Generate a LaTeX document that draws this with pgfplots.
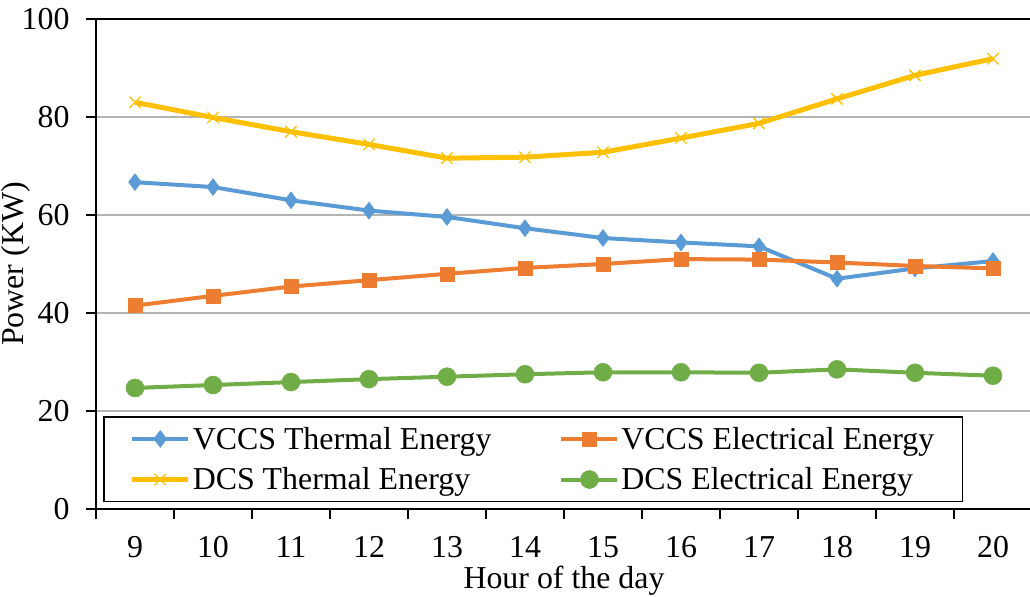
\documentclass[border=0pt]{standalone}
\usepackage{fontspec}
\setmainfont{Liberation Serif}
\usepackage{pgfplots}
\pgfplotsset{compat=1.18}

\definecolor{vthermal}{HTML}{5B9BD5}
\definecolor{velec}{HTML}{ED7D31}
\definecolor{dthermal}{HTML}{FFC000}
\definecolor{delec}{HTML}{70AD47}
\definecolor{gridgray}{HTML}{B4B4B4}

\begin{document}
\begin{tikzpicture}
\begin{axis}[
  scale only axis,
  width=936bp, height=490bp,
  xmin=8.5, xmax=20.5, ymin=0, ymax=100,
  axis line style={black, line width=1.6bp},
  font=\fontsize{32}{38}\selectfont,
  /pgf/number format/assume math mode=true,
  % category boundaries carry the tick marks
  xtick={8.5,9.5,...,20.5}, xticklabels={},
  extra x ticks={9,10,...,20},
  extra x tick labels={9,10,11,12,13,14,15,16,17,18,19,20},
  extra x tick style={grid=none, tick style={draw=none}},
  xticklabel style={yshift=-14bp},
  ytick={0,20,...,100},
  yticklabel style={xshift=-13bp},
  major tick length=10bp,
  tick align=outside,
  tick pos=left,
  tick style={black, line width=1.4bp},
  ymajorgrids, xmajorgrids=false,
  grid style={gridgray, line width=1.4bp},
  xlabel={Hour of the day},
  ylabel={Power (KW)},
  xlabel style={yshift=9bp},
  ylabel style={yshift=-15bp},
  legend columns=2,
  legend style={
    at={(axis cs:8.59,18.9)}, anchor=north west,
    draw=black, line width=1.5bp, fill=white,
    font=\fontsize{32}{38}\selectfont,
    inner xsep=26bp, inner ysep=8bp,
    row sep=13bp,
    /tikz/every even column/.append style={column sep=66bp},
  },
  legend cell align=left,
  legend image code/.code={
    \draw[#1, mark repeat=2, mark phase=2]
      plot coordinates {(0bp,0bp) (28bp,0bp) (56bp,0bp)};
  },
]
\addplot[vthermal, line width=4bp, mark=diamond*, mark size=8.5bp,
         mark options={solid, fill=vthermal, draw=vthermal, line width=0.5bp}]
  coordinates {
  (9,66.7) (10,65.7) (11,63.0) (12,60.9) (13,59.6) (14,57.3)
  (15,55.3) (16,54.4) (17,53.6) (18,47.0) (19,49.1) (20,50.6)};
\addlegendentry{VCCS Thermal Energy}

\addplot[velec, line width=4bp, mark=square*, mark size=7bp,
         mark options={solid, fill=velec, draw=velec, line width=0.5bp}]
  coordinates {
  (9,41.5) (10,43.5) (11,45.4) (12,46.7) (13,48.0) (14,49.2)
  (15,50.0) (16,51.0) (17,50.9) (18,50.3) (19,49.6) (20,49.1)};
\addlegendentry{VCCS Electrical Energy}

\addplot[dthermal, line width=5bp, mark=x, mark size=8bp,
         mark options={solid, draw=dthermal, line width=1.3bp}]
  coordinates {
  (9,83.0) (10,79.9) (11,77.0) (12,74.4) (13,71.6) (14,71.8)
  (15,72.8) (16,75.7) (17,78.7) (18,83.7) (19,88.5) (20,91.9)};
\addlegendentry{DCS Thermal Energy}

\addplot[delec, line width=4bp, mark=*, mark size=9bp,
         mark options={solid, fill=delec, draw=delec, line width=0.5bp}]
  coordinates {
  (9,24.7) (10,25.3) (11,25.9) (12,26.5) (13,27.0) (14,27.5)
  (15,27.9) (16,27.9) (17,27.8) (18,28.5) (19,27.8) (20,27.2)};
\addlegendentry{DCS Electrical Energy}
\end{axis}
% page frame: the axis' right edge runs off the page
\pgfresetboundingbox
\path (current axis.south west) ++(-96bp,-88bp) rectangle ++(1030bp,597bp);
\end{tikzpicture}
\end{document}
